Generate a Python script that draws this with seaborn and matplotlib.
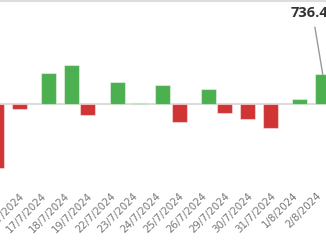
import matplotlib
matplotlib.use("Agg")
import matplotlib.pyplot as plt
import seaborn as sns
import pandas as pd

dates = ["15/7/2024", "16/7/2024", "17/7/2024", "18/7/2024", "19/7/2024",
         "22/7/2024", "23/7/2024", "24/7/2024", "25/7/2024", "26/7/2024",
         "29/7/2024", "30/7/2024", "31/7/2024", "1/8/2024", "2/8/2024"]
values = [-1590, -117, 769, 960, -280, 538, 32, 471, -454, 365,
          -216, -365, -603, 117, 736.4]
label_text = "736.4"

kinds = ["down" if v < 0 else "up" for v in values]
df = pd.DataFrame({"date": dates, "value": values, "kind": kinds})

sns.set_theme(style="white")
plt.rcParams["font.family"] = ["DejaVu Sans"]

W, H = 326, 245
fig = plt.figure(figsize=(W / 100, H / 100), dpi=100)
top_px, bot_px = 1, 186
ax = fig.add_axes([0, 1 - bot_px / H, 1, (bot_px - top_px) / H])

green, red = "#4caf50", "#cf3535"
sns.barplot(data=df, x="date", y="value", hue="kind", hue_order=["down", "up"],
            order=dates, palette={"down": red, "up": green}, dodge=True,
            saturation=1, width=0.56, ax=ax, legend=False, zorder=3,
            errorbar=None)

# widen bars (keep their dodged centres)
bw = 0.656
for p in ax.patches:
    if p.get_height() == 0 or p.get_width() == 0:
        continue
    c = p.get_x() + p.get_width() / 2
    p.set_width(bw)
    p.set_x(c - bw / 2)
    p.set_edgecolor((1, 1, 1, 0.45))
    p.set_linewidth(0.8)

ax.axhline(0, color="#dcdcdc", lw=1.5, zorder=2)

px_per_unit = 1 / 24.8
zero_px = 104
ax.set_ylim(-(bot_px - zero_px) / px_per_unit, (zero_px - top_px) / px_per_unit)
cat_px = 22.85
x0_px = -0.35
ax.set_xlim((0 - x0_px) / cat_px, (W - x0_px) / cat_px)

ax.set_ylabel("")
ax.set_xlabel("")
ax.set_yticks([])
ax.tick_params(axis="x", length=0, pad=6, labelsize=7.4, labelcolor="#777777")
for t in ax.get_xticklabels():
    t.set_rotation(45)
    t.set_ha("right")
    t.set_va("center")
    t.set_rotation_mode("anchor")

for s in ["left", "right", "bottom"]:
    ax.spines[s].set_visible(False)
ax.spines["top"].set_color("#dddddd")
ax.spines["top"].set_linewidth(1.5)

# callout on the last bar
last = len(values) - 1
ax.annotate(label_text, xy=(last + 0.14, values[last]),
            xytext=((291 - x0_px) / cat_px, (zero_px - 12.8) / px_per_unit),
            ha="left", va="center", fontsize=10.5, fontweight="bold",
            family=["Open Sans", "DejaVu Sans"],
            color="#333333", annotation_clip=False,
            arrowprops=dict(arrowstyle="-", color="#999999", lw=1,
                            relpos=(0.6, 0), shrinkA=3, shrinkB=0))

fig.savefig("out.png", dpi=100)
